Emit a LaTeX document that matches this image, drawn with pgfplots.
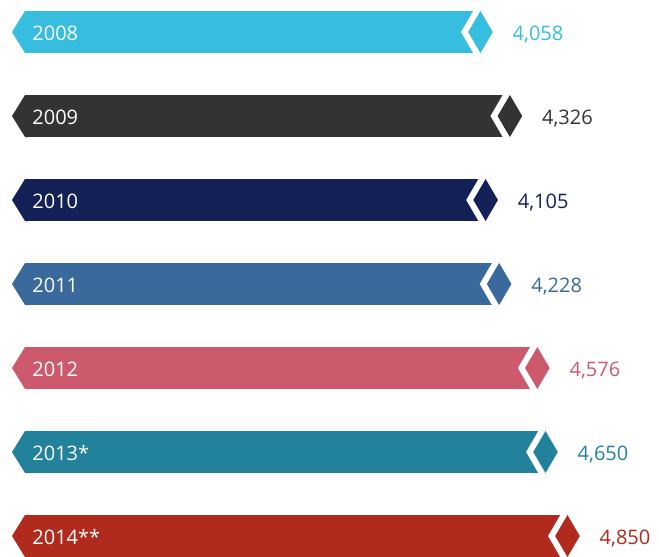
\documentclass[border=0pt]{standalone}
\usepackage{fontspec}
\setmainfont{Open Sans}
\usepackage{pgfplots}
\pgfplotsset{compat=1.18}

\definecolor{cA}{HTML}{37BDE0}
\definecolor{cB}{HTML}{333333}
\definecolor{cC}{HTML}{132157}
\definecolor{cD}{HTML}{3A6A9B}
\definecolor{cE}{HTML}{CD596D}
\definecolor{cF}{HTML}{22829C}
\definecolor{cG}{HTML}{B02A1D}

\pgfdeclareplotmark{lefttip}{%
 \pgfpathmoveto{\pgfpoint{0.6pt}{21pt}}%
 \pgfpathlineto{\pgfpoint{-3.2pt}{21pt}}%
 \pgfpathlineto{\pgfpoint{-16.2pt}{0pt}}%
 \pgfpathlineto{\pgfpoint{-3.2pt}{-21pt}}%
 \pgfpathlineto{\pgfpoint{0.6pt}{-21pt}}%
 \pgfpathclose\pgfusepathqfill}
\pgfdeclareplotmark{gapdiamond}{%
 \pgfpathmoveto{\pgfpoint{-12.9pt}{0pt}}%
 \pgfpathlineto{\pgfpoint{0pt}{22.2pt}}%
 \pgfpathlineto{\pgfpoint{12.9pt}{0pt}}%
 \pgfpathlineto{\pgfpoint{0pt}{-22.2pt}}%
 \pgfpathclose\pgfusepathqfill}
\pgfdeclareplotmark{enddiamond}{%
 \pgfpathmoveto{\pgfpoint{-5.8pt}{0pt}}%
 \pgfpathlineto{\pgfpoint{6.5pt}{21pt}}%
 \pgfpathlineto{\pgfpoint{18.8pt}{0pt}}%
 \pgfpathlineto{\pgfpoint{6.5pt}{-21pt}}%
 \pgfpathclose\pgfusepathqfill}

\newcommand\labfont{\fontsize{20}{24}\selectfont}

% #1 row index, #2 value, #3 colour, #4 year label, #5 value label
\newcommand\arrowrow[5]{%
 \addplot[xbar, bar width=42pt, bar shift=0pt, fill=#3, draw=none] coordinates {(#2,#1)};
 \addplot[only marks, mark=lefttip, color=#3, point meta=explicit symbolic,
   nodes near coords, every node near coord/.style={anchor=base west, xshift=4pt, yshift=-8.7pt,
   inner sep=0pt, text=white, font=\labfont}] coordinates {(0,#1) [#4]};
 \addplot[only marks, mark=gapdiamond, color=white] coordinates {(#2,#1)};
 \addplot[only marks, mark=enddiamond, color=#3, point meta=explicit symbolic,
   nodes near coords, every node near coord/.style={anchor=base west, xshift=38.5pt, yshift=-8.7pt,
   inner sep=0pt, text=#3, font=\labfont}] coordinates {(#2,#1) [#5]};
}

\begin{document}
\begin{tikzpicture}
\begin{axis}[
  scale only axis, width=659pt, height=556pt,
  xmin=-256.7, xmax=5742.4, ymin=-0.381, ymax=6.238,
  y dir=reverse, hide axis, clip=true,
]
\arrowrow{0}{4058}{cA}{2008}{4,058}
\arrowrow{1}{4326}{cB}{2009}{4,326}
\arrowrow{2}{4105}{cC}{2010}{4,105}
\arrowrow{3}{4228}{cD}{2011}{4,228}
\arrowrow{4}{4576}{cE}{2012}{4,576}
\arrowrow{5}{4650}{cF}{2013*}{4,650}
\arrowrow{6}{4850}{cG}{2014**}{4,850}
\end{axis}
\pgfresetboundingbox
\path (current axis.south west) rectangle (current axis.north east);
\end{tikzpicture}
\end{document}
